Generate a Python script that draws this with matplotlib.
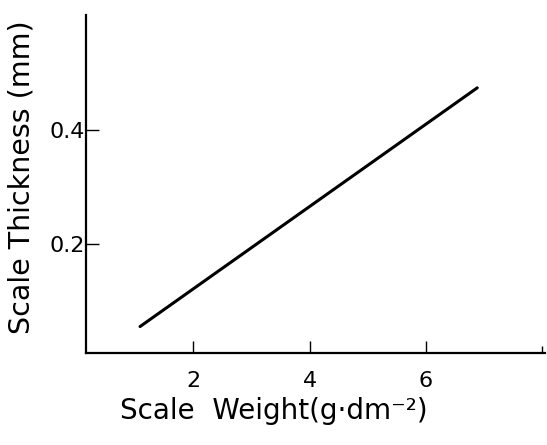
import matplotlib
matplotlib.use("Agg")
import matplotlib.pyplot as plt

# data
weight = [1.09, 6.88]          # g/dm^2
thickness = [0.056, 0.473]     # mm
xticks = [2, 4, 6]
yticks = [0.2, 0.4]

fig = plt.figure(figsize=(5.47, 4.45), dpi=100)
ax = fig.add_axes([0.157, 0.207, 0.839, 0.759])

ax.plot(weight, thickness, color="black", lw=2.2, solid_capstyle="round")

ax.set_xlim(0.16, 8.04)
ax.set_ylim(0.01, 0.6)
ax.spines["top"].set_visible(False)
ax.spines["right"].set_visible(False)
for s in ("left", "bottom"):
    ax.spines[s].set_linewidth(1.6)

ax.set_xticks(xticks)
ax.set_xticklabels([str(t) for t in xticks])
ax.set_xticks([8.0], minor=True)
ax.set_yticks(yticks)
ax.set_yticklabels([str(t) for t in yticks])
ax.tick_params(axis="x", direction="in", length=9, width=1, pad=13, labelsize=16)
ax.tick_params(axis="x", which="minor", direction="in", length=5, width=1)
ax.tick_params(axis="y", direction="in", length=9, width=1, pad=1, labelsize=16)

ax.set_xlabel("Scale  Weight(g·dm⁻²)", fontsize=20)
ax.xaxis.set_label_coords(0.41, -0.13)
ax.set_ylabel("Scale Thickness (mm)", fontsize=20.5)
ax.yaxis.set_label_coords(-0.11, 0.52)

fig.savefig("out.png", dpi=100)
